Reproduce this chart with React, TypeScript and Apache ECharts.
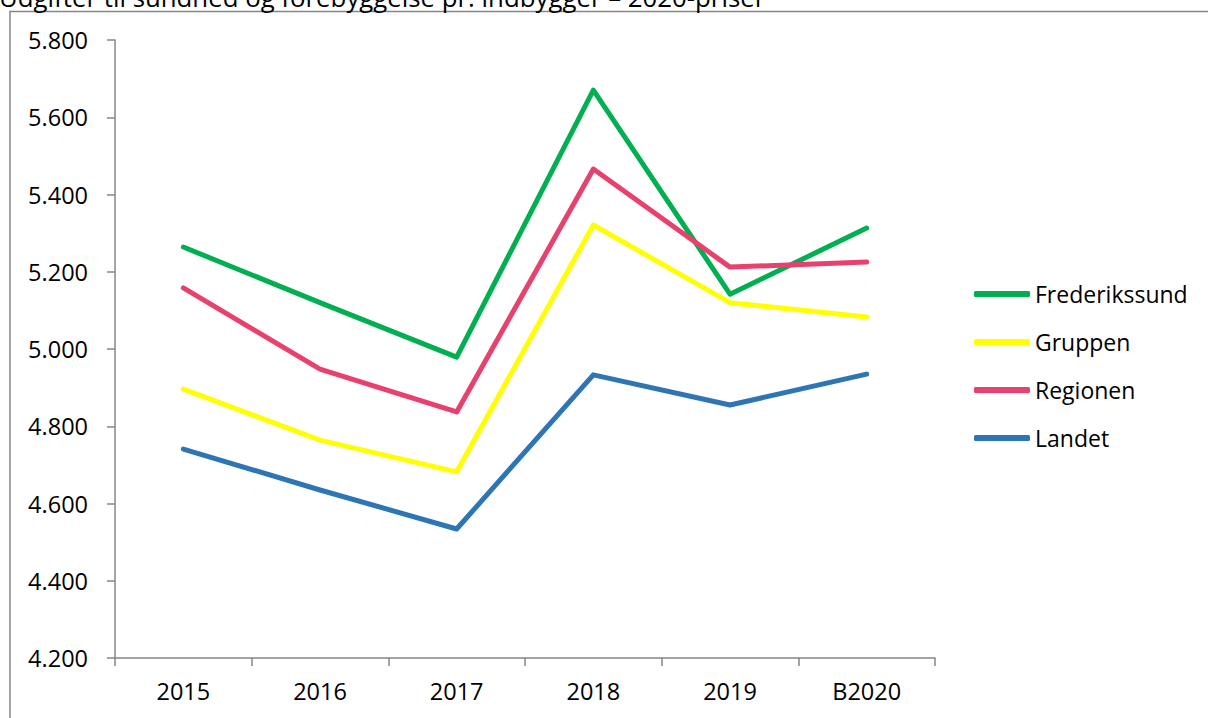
import React, { useEffect, useRef } from "react";
import * as echarts from "echarts";

const categories = ["2015", "2016", "2017", "2018", "2019", "B2020"];
const frederikssund = [5264, 5120, 4979, 5670, 5142, 5313];
const gruppen = [4896, 4764, 4682, 5321, 5120, 5083];
const regionen = [5158, 4948, 4837, 5466, 5212, 5225];
const landet = [4741, 4635, 4534, 4933, 4855, 4935];
const yTicks = { min: 4200, max: 5800, interval: 200 };
const title = "Udgifter til sundhed og forebyggelse pr. indbygger – 2020-priser";

const FONT = "'Open Sans', 'Liberation Sans', sans-serif";
const AXIS = "#868686";

export default function App() {
  const ref = useRef<HTMLDivElement>(null);
  useEffect(() => {
    if (!ref.current) return;
    const chart = echarts.init(ref.current, undefined, { renderer: "svg" });
    const mk = (name: string, data: number[], color: string) => ({
      name,
      type: "line",
      data,
      showSymbol: false,
      symbol: "none",
      color,
      lineStyle: { width: 5, color, cap: "round", join: "round" },
    });
    chart.setOption({
      animation: false,
      backgroundColor: "#ffffff",
      textStyle: { fontFamily: FONT },
      grid: { left: 115, right: 273, top: 40, bottom: 60, containLabel: false },
      graphic: [
        {
          type: "rect",
          shape: { x: 10, y: 11.5, width: 1400, height: 1000 },
          style: { fill: "none", stroke: AXIS, lineWidth: 1.5 },
          silent: true,
        },
        {
          type: "text",
          x: -1,
          y: 10,
          style: {
            text: title,
            font: `25.8px ${FONT}`,
            fill: "#000",
            verticalAlign: "bottom",
          },
        },
      ],
      legend: {
        orient: "vertical",
        left: 969,
        top: 276,
        itemWidth: 56,
        itemHeight: 6,
        itemGap: 22,
        icon: "roundRect",
        textStyle: { fontSize: 23, color: "#000", fontFamily: FONT, lineHeight: 26 },
        data: ["Frederikssund", "Gruppen", "Regionen", "Landet"],
      },
      xAxis: {
        type: "category",
        data: categories,
        boundaryGap: true,
        axisLine: { lineStyle: { color: AXIS, width: 1.5 } },
        axisTick: { show: true, length: 8, lineStyle: { color: AXIS, width: 1.5 } },
        axisLabel: { color: "#000", fontSize: 23.5, margin: 21, fontFamily: FONT },
      },
      yAxis: {
        type: "value",
        min: yTicks.min,
        max: yTicks.max,
        interval: yTicks.interval,
        axisLine: { show: true, lineStyle: { color: AXIS, width: 1.5 } },
        axisTick: { show: true, length: 8, lineStyle: { color: AXIS, width: 1.5 } },
        splitLine: { show: false },
        axisLabel: {
          color: "#000",
          fontSize: 23.5,
          margin: 27,
          fontFamily: FONT,
          formatter: (v: number) => {
            const s = Math.round(v).toString();
            return s.length > 3 ? s.slice(0, s.length - 3) + "." + s.slice(-3) : s;
          },
        },
      },
      series: [
        mk("Frederikssund", frederikssund, "#00B050"),
        mk("Gruppen", gruppen, "#FFFF00"),
        mk("Regionen", regionen, "#E9416E"),
        mk("Landet", landet, "#2E75B6"),
      ],
    });
    return () => chart.dispose();
  }, []);
  return (
    <div
      ref={ref}
      style={{ position: "fixed", left: 0, top: 0, width: 1208, height: 718, background: "#fff" }}
    />
  );
}
